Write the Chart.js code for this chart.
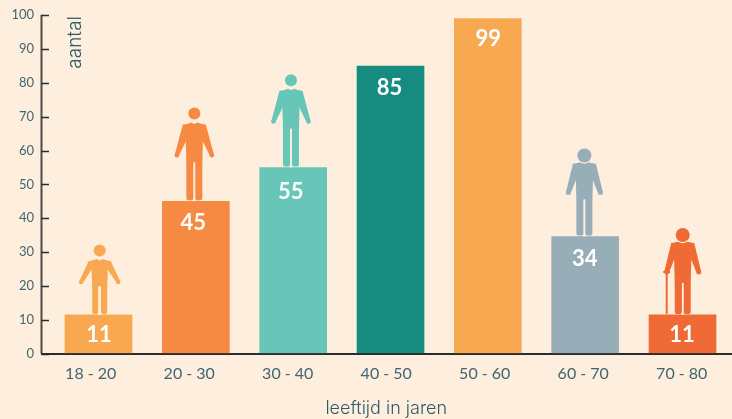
<!DOCTYPE html>
<html lang="nl">
<head>
    <meta charset="UTF-8">
    <title>Aantal per leeftijdsgroep</title>
    <script src="https://cdn.jsdelivr.net/npm/chart.js"></script>
    <style>
        body { margin: 0; background: #FEEEDD; }
        canvas { display: block; }
    </style>
</head>
<body>
    <canvas id="chart" width="732" height="419"></canvas>
    <script>
        const categories = ['18 - 20', '20 - 30', '30 - 40', '40 - 50', '50 - 60', '60 - 70', '70 - 80'];
        // bar heights
        const values = [11.4, 45, 55, 85, 99, 34.6, 11.4];
        // numbers printed on the bars
        const printedValues = [11, 45, 55, 85, 99, 34, 11];
        const barColors = ['#F9A852', '#F78A43', '#67C6B8', '#168B80', '#F9A852', '#97ADB8', '#EF6A35'];

        const BG = '#FEEEDD';
        const TEXT = '#3F6573';
        const FONT = 'Lato, sans-serif';

        // The printed numbers are not quite centred on their bars in the original
        const labelShift = [
            { dx: 0.5, dy: 20 }, { dx: -2.5, dy: 22 }, { dx: -2.5, dy: 24 }, { dx: -1, dy: 21.5 },
            { dx: 0.5, dy: 20.5 }, { dx: -0.5, dy: 22 }, { dx: -0.5, dy: 20 }
        ];

        // Figures, measured in pixels from the top of their bar. Null = no figure on that bar.
        const people = [
            { dx: 1.2, headY: 64.5, headR: 6, shoulderY: 56, torso: 7.5, pit: 9, hipY: 28.5, gap: 1.3, handDx: 18.5, handY: 33, arm: 4.5 },
            { dx: -1.5, headY: 87.7, headR: 6, shoulderY: 78.7, torso: 8, pit: 17, hipY: 38.7, gap: 0.8, handDx: 17.5, handY: 46, arm: 4.5 },
            { dx: -2.2, headY: 87.3, headR: 6, shoulderY: 78.7, torso: 8, pit: 17, hipY: 38.7, gap: 0.8, handDx: 17.5, handY: 46, arm: 4.5 },
            null,
            null,
            { dx: -0.8, headY: 81, headR: 7, shoulderY: 74.7, torso: 8, pit: 16, hipY: 37, gap: 0.8, handDx: 16, handY: 44, arm: 5, halo: true },
            { dx: 0.2, headY: 80, headR: 7, shoulderY: 74, torso: 8, pit: 16, hipY: 32, gap: 0.8, handDx: 16, handY: 43, arm: 5, halo: true, cane: true }
        ];

        function drawPerson(ctx, cx, base, p, color) {
            ctx.save();
            ctx.fillStyle = color;
            ctx.strokeStyle = color;
            ctx.lineCap = 'round';

            const shoulder = base - p.shoulderY;

            // torso
            ctx.beginPath();
            ctx.moveTo(cx - p.torso - 1, shoulder + 2);
            ctx.lineTo(cx - 3, shoulder);
            ctx.lineTo(cx, shoulder + 1.5);
            ctx.lineTo(cx + 3, shoulder);
            ctx.lineTo(cx + p.torso + 1, shoulder + 2);
            ctx.lineTo(cx + p.torso, base - p.hipY);
            ctx.lineTo(cx - p.torso, base - p.hipY);
            ctx.closePath();
            ctx.fill();

            // arms: tapered from the shoulder to a round hand
            [-1, 1].forEach(side => {
                ctx.beginPath();
                ctx.moveTo(cx + side * (p.torso - 2), shoulder + 1.5);
                ctx.lineTo(cx + side * (p.torso + 3.5), shoulder + 2);
                ctx.lineTo(cx + side * (p.handDx + p.arm / 2), base - p.handY);
                ctx.lineTo(cx + side * (p.handDx - p.arm / 2), base - p.handY);
                ctx.lineTo(cx + side * (p.torso - 0.5), shoulder + p.pit);
                ctx.closePath();
                ctx.fill();
                ctx.beginPath();
                ctx.arc(cx + side * p.handDx, base - p.handY, p.arm / 2, 0, Math.PI * 2);
                ctx.fill();
            });

            // legs
            const legW = p.torso - p.gap;
            ctx.beginPath();
            ctx.roundRect(cx - p.torso, base - p.hipY - 1, legW, p.hipY, [0, 0, 2, 2]);
            ctx.roundRect(cx + p.gap, base - p.hipY - 1, legW, p.hipY, [0, 0, 2, 2]);
            ctx.fill();
            ctx.fillStyle = BG;
            ctx.fillRect(cx - p.gap, base - p.hipY, p.gap * 2, p.hipY);
            ctx.fillStyle = color;

            // head, with a thin ring on the older figures
            if (p.halo) {
                ctx.beginPath();
                ctx.arc(cx, base - p.headY, p.headR + 1.2, 0, Math.PI * 2);
                ctx.fillStyle = BG;
                ctx.fill();
                ctx.fillStyle = color;
            }
            ctx.beginPath();
            ctx.arc(cx, base - p.headY, p.headR, 0, Math.PI * 2);
            ctx.fill();

            if (p.cane) {
                ctx.fillRect(cx - p.handDx - 1, base - p.handY, 2, p.handY - 1);
                ctx.fillRect(cx - p.handDx - 3.5, base - p.handY - 1, 7, 2);
            }
            ctx.restore();
        }

        // Axis line, inward ticks, figures, printed numbers and the "aantal" label inside the plot
        const decorations = {
            id: 'decorations',
            afterDatasetsDraw(chart) {
                const { ctx, scales, chartArea } = chart;

                ctx.save();
                ctx.strokeStyle = '#4A4A4A';
                ctx.lineWidth = 2;
                ctx.beginPath();
                ctx.moveTo(chartArea.left, chartArea.top - 0.5);
                ctx.lineTo(chartArea.left, chartArea.bottom);
                ctx.stroke();
                ctx.strokeStyle = '#2B2B2B';
                ctx.lineWidth = 1.5;
                scales.y.ticks.forEach((tick, i) => {
                    const y = Math.round(scales.y.getPixelForTick(i)) + 0.5;
                    ctx.beginPath();
                    ctx.moveTo(chartArea.left, y);
                    ctx.lineTo(chartArea.left + 7.5, y);
                    ctx.stroke();
                });
                ctx.restore();

                values.forEach((value, i) => {
                    const x = scales.xBars.getPixelForValue(i);
                    const top = scales.y.getPixelForValue(value);
                    if (people[i]) drawPerson(ctx, x + people[i].dx, top, people[i], barColors[i]);
                    ctx.save();
                    ctx.fillStyle = '#FFFFFF';
                    ctx.font = 'bold 22px ' + FONT;
                    ctx.textAlign = 'center';
                    ctx.textBaseline = 'middle';
                    ctx.fillText(String(printedValues[i]), x + labelShift[i].dx, top + labelShift[i].dy);
                    ctx.restore();
                });

                ctx.save();
                ctx.translate(75, 16);
                ctx.rotate(-Math.PI / 2);
                ctx.fillStyle = '#2F5A68';
                ctx.font = '300 19px Inter, sans-serif';
                ctx.textAlign = 'right';
                ctx.textBaseline = 'middle';
                ctx.fillText('aantal', 0, 0);
                ctx.restore();
            }
        };

        new Chart(document.getElementById('chart'), {
            type: 'bar',
            data: {
                labels: categories,
                datasets: [{
                    data: values.map((v, i) => ({ x: i, y: v })),
                    xAxisID: 'xBars',
                    backgroundColor: barColors,
                    barThickness: 67,
                    borderWidth: 0
                }]
            },
            options: {
                responsive: false,
                animation: false,
                layout: { padding: { top: 10, right: 1, left: 0, bottom: 0 } },
                plugins: { legend: { display: false }, tooltip: { enabled: false }, title: { display: false } },
                scales: {
                    // bars sit slightly off the tick labels in the original, so they get their own axis
                    xBars: { type: 'linear', display: false, offset: false, min: -0.5856, max: 6.498 },
                    x: {
                        type: 'category',
                        offset: true,
                        position: 'bottom',
                        afterFit(scale) { scale.height = 65.5; },
                        grid: { drawOnChartArea: false, drawTicks: false },
                        border: { color: '#2B2B2B', width: 2 },
                        ticks: { color: TEXT, font: { family: FONT, size: 16 }, padding: 11, maxRotation: 0 },
                        title: {
                            display: true,
                            text: 'leeftijd in jaren',
                            color: '#2F5A68',
                            font: { family: 'Inter, sans-serif', size: 18, weight: '300' },
                            padding: { top: 11, bottom: 0 }
                        }
                    },
                    y: {
                        min: 0,
                        max: 100,
                        afterFit(scale) { scale.width = 41.5; },
                        grid: { drawOnChartArea: false, drawTicks: false },
                        border: { display: false },
                        ticks: { stepSize: 10, color: TEXT, font: { family: FONT, size: 13 }, padding: 7.5 }
                    }
                }
            },
            plugins: [decorations]
        });
    </script>
</body>
</html>
